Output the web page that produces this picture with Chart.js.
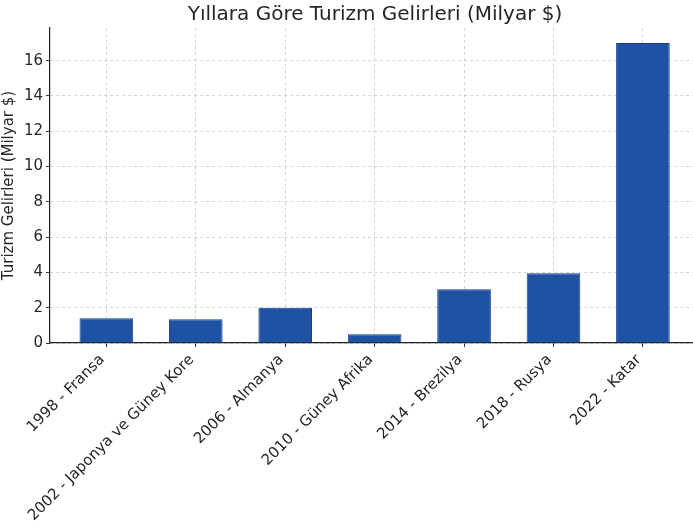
<!DOCTYPE html>
<html>
<head>
<meta charset="utf-8">
<script src="https://cdn.jsdelivr.net/npm/chart.js@4.4.1/dist/chart.umd.min.js"></script>
<style>
  html, body { margin: 0; padding: 0; background: #fff; overflow: hidden; }
</style>
</head>
<body>
<canvas id="chart" width="693" height="523"></canvas>
<script>
// chart texts
const titleText = 'Yıllara Göre Turizm Gelirleri (Milyar $)'
const yAxisLabel = 'Turizm Gelirleri (Milyar $)'

// categories (world cup year - host country)
const categories = [
    '1998 - Fransa',
    '2002 - Japonya ve Güney Kore',
    '2006 - Almanya',
    '2010 - Güney Afrika',
    '2014 - Brezilya',
    '2018 - Rusya',
    '2022 - Katar'
]

// tourism revenue, billion $
const revenues = [1.4, 1.35, 2.0, 0.5, 3.05, 3.95, 17.0]

// y axis tick values
const yTicks = [0, 2, 4, 6, 8, 10, 12, 14, 16]

const FONT = "'DejaVu Sans', sans-serif"
const TEXT = '#262626'
const GRID = '#c8c8c8'

// draws the title centred over the (partly cropped) axes area
const figureTitle = {
    id: 'figureTitle',
    afterDraw(chart) {
        const ctx = chart.ctx
        ctx.save()
        ctx.font = '20px ' + FONT
        ctx.fillStyle = TEXT
        ctx.textAlign = 'center'
        ctx.textBaseline = 'alphabetic'
        ctx.fillText(titleText, 375, 20)
        ctx.restore()
    }
}

const points = revenues.map((v, i) => ({ x: i, y: v }))

new Chart(document.getElementById('chart'), {
    type: 'bar',
    data: {
        datasets: [{
            data: points,
            backgroundColor: '#1f52a3',
            borderColor: '#173f85',
            borderWidth: 1,
            barPercentage: 0.6,
            categoryPercentage: 1
        }]
    },
    options: {
        responsive: false,
        animation: false,
        layout: { padding: { top: 28, right: 0, left: 0, bottom: 0 } },
        plugins: {
            legend: { display: false },
            title: { display: false },
            tooltip: { enabled: false }
        },
        scales: {
            x: {
                type: 'linear',
                min: -0.63,
                max: 6.56,
                offset: false,
                afterBuildTicks: (scale) => {
                    scale.ticks = categories.map((c, i) => ({ value: i }))
                },
                afterFit: (scale) => { scale.height = 180 },
                grid: {
                    offset: false,
                    color: GRID,
                    lineWidth: 0.8,
                    drawTicks: true,
                    tickLength: 4,
                    tickColor: '#333',
                    tickWidth: 1
                },
                border: { display: true, color: '#222', width: 1.2, dash: [3, 3] },
                ticks: {
                    autoSkip: false,
                    minRotation: 45,
                    maxRotation: 45,
                    padding: 4,
                    labelOffset: -4,
                    color: TEXT,
                    font: { family: FONT, size: 15 },
                    callback: (v) => categories[v]
                }
            },
            y: {
                min: 0,
                max: 17.85,
                afterBuildTicks: (scale) => {
                    scale.ticks = yTicks.map(v => ({ value: v }))
                },
                afterFit: (scale) => { scale.width = 50 },
                grid: {
                    color: GRID,
                    lineWidth: 0.8,
                    drawTicks: true,
                    tickLength: 4,
                    tickColor: '#333',
                    tickWidth: 1
                },
                border: { display: true, color: '#222', width: 1.2, dash: [3, 3] },
                ticks: {
                    padding: 3,
                    color: TEXT,
                    font: { family: FONT, size: 15 }
                },
                title: {
                    display: true,
                    text: yAxisLabel,
                    color: TEXT,
                    padding: { top: 0, bottom: 1 },
                    font: { family: FONT, size: 15 }
                }
            }
        }
    },
    plugins: [figureTitle]
})
</script>
</body>
</html>
